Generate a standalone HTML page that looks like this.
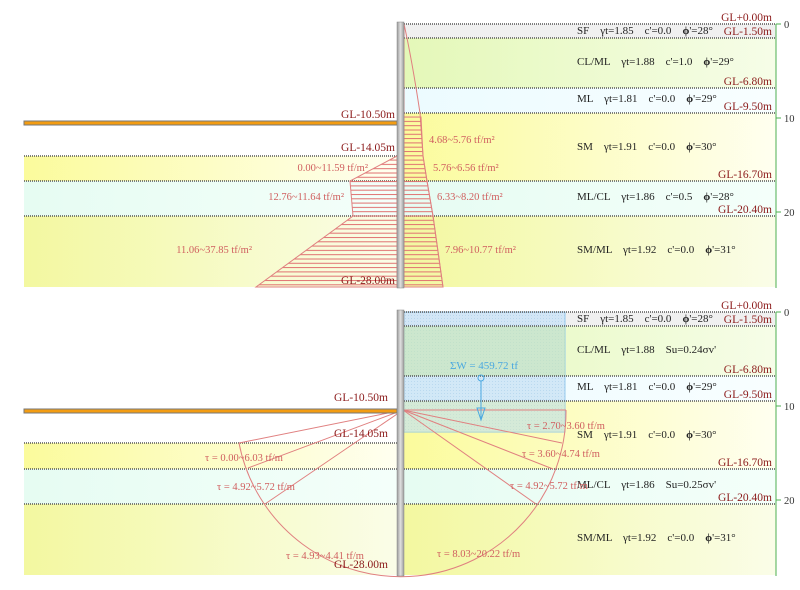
<!DOCTYPE html>
<html><head><meta charset="utf-8"><style>
body{margin:0;background:#fff;}
svg{display:block;font-family:"Liberation Serif",serif;}
</style></head><body>
<svg width="800" height="590" xmlns="http://www.w3.org/2000/svg">
<defs>
<linearGradient id="gy" x1="0" x2="1"><stop offset="0" stop-color="#fbfb9c"/><stop offset="1" stop-color="#fffff0"/></linearGradient>
<linearGradient id="gy2" x1="0" x2="1"><stop offset="0" stop-color="#f3f8a0"/><stop offset="1" stop-color="#fafde8"/></linearGradient>
<linearGradient id="gg" x1="0" x2="1"><stop offset="0" stop-color="#e4f8b8"/><stop offset="1" stop-color="#f6fde8"/></linearGradient>
<linearGradient id="gc" x1="0" x2="1"><stop offset="0" stop-color="#e6fcf2"/><stop offset="1" stop-color="#f4fffa"/></linearGradient>
<linearGradient id="gm" x1="0" x2="1"><stop offset="0" stop-color="#ecfbff"/><stop offset="1" stop-color="#f8feff"/></linearGradient>
<linearGradient id="wall" x1="0" x2="1"><stop offset="0" stop-color="#999"/><stop offset="0.5" stop-color="#e0e0e0"/><stop offset="1" stop-color="#999"/></linearGradient>
<pattern id="hat" width="10" height="4.3" patternUnits="userSpaceOnUse"><line x1="0" y1="1" x2="10" y2="1" stroke="#e07070" stroke-width="1"/></pattern>
<pattern id="blue" width="3" height="3" patternUnits="userSpaceOnUse"><rect width="3" height="3" fill="#cfe6f7"/><rect width="1" height="1" fill="#b5d6ee"/></pattern>
</defs>
<g font-size="10.5">
<!-- ===== TOP PANEL ===== -->
<rect x="404" y="24" width="372" height="14" fill="#f0f0f0"/>
<rect x="404" y="38" width="372" height="50" fill="url(#gg)"/>
<rect x="404" y="88" width="372" height="25" fill="url(#gm)"/>
<rect x="404" y="113" width="372" height="68" fill="url(#gy)"/>
<rect x="404" y="181" width="372" height="35" fill="url(#gc)"/>
<rect x="404" y="216" width="372" height="71" fill="url(#gy2)"/>
<rect x="24" y="156" width="373" height="25" fill="url(#gy)"/>
<rect x="24" y="181" width="373" height="35" fill="url(#gc)"/>
<rect x="24" y="216" width="373" height="71" fill="url(#gy2)"/>
<g stroke="#555" stroke-width="1.5" stroke-dasharray="1,1">
<line x1="404" y1="24" x2="776" y2="24"/><line x1="404" y1="38" x2="776" y2="38"/>
<line x1="404" y1="88" x2="776" y2="88"/><line x1="404" y1="113" x2="776" y2="113"/>
<line x1="404" y1="181" x2="776" y2="181"/><line x1="404" y1="216" x2="776" y2="216"/>
<line x1="24" y1="156" x2="397" y2="156"/><line x1="24" y1="181" x2="397" y2="181"/><line x1="24" y1="216" x2="397" y2="216"/>
</g>
<path d="M404,24 Q412,60 420,113 L423,156 L427,181 L433,216 L443,287 L404,287 Z" fill="none" stroke="#e08080"/>
<path d="M404,117 L421,117 L423,156 L427,181 L433,216 L443,287 L404,287 Z" fill="url(#hat)" stroke="#e08080"/>
<path d="M397,156 L350,181 L353,216 L256,287 L397,287 Z" fill="url(#hat)" stroke="#e08080"/>
<rect x="24" y="121" width="373" height="4" fill="#f39c12" stroke="#777" stroke-width="1"/>
<rect x="397" y="22" width="7" height="266" fill="url(#wall)" stroke="#888" stroke-width="0.5"/>
<g fill="#8b1a1a" font-size="11.5">
<text x="772" y="21" text-anchor="end">GL+0.00m</text><text x="772" y="35" text-anchor="end">GL-1.50m</text>
<text x="772" y="85" text-anchor="end">GL-6.80m</text><text x="772" y="110" text-anchor="end">GL-9.50m</text>
<text x="772" y="178" text-anchor="end">GL-16.70m</text><text x="772" y="213" text-anchor="end">GL-20.40m</text>
<text x="395" y="118" text-anchor="end">GL-10.50m</text><text x="395" y="151" text-anchor="end">GL-14.05m</text>
<text x="395" y="284" text-anchor="end">GL-28.00m</text>
</g>
<g fill="#222" font-size="11">
<text x="577" y="34">SF &#160;&#160; γt=1.85 &#160;&#160; c'=0.0 &#160;&#160; <tspan font-weight="bold">ϕ</tspan>'=28°</text>
<text x="577" y="65">CL/ML &#160;&#160; γt=1.88 &#160;&#160; c'=1.0 &#160;&#160; <tspan font-weight="bold">ϕ</tspan>'=29°</text>
<text x="577" y="102">ML &#160;&#160; γt=1.81 &#160;&#160; c'=0.0 &#160;&#160; <tspan font-weight="bold">ϕ</tspan>'=29°</text>
<text x="577" y="150">SM &#160;&#160; γt=1.91 &#160;&#160; c'=0.0 &#160;&#160; <tspan font-weight="bold">ϕ</tspan>'=30°</text>
<text x="577" y="200">ML/CL &#160;&#160; γt=1.86 &#160;&#160; c'=0.5 &#160;&#160; <tspan font-weight="bold">ϕ</tspan>'=28°</text>
<text x="577" y="253">SM/ML &#160;&#160; γt=1.92 &#160;&#160; c'=0.0 &#160;&#160; <tspan font-weight="bold">ϕ</tspan>'=31°</text>
</g>
<g fill="#d06060">
<text x="429" y="143">4.68~5.76 tf/m²</text><text x="433" y="171">5.76~6.56 tf/m²</text>
<text x="437" y="200">6.33~8.20 tf/m²</text><text x="445" y="253">7.96~10.77 tf/m²</text>
<text x="368" y="171" text-anchor="end">0.00~11.59 tf/m²</text>
<text x="344" y="200" text-anchor="end">12.76~11.64 tf/m²</text>
<text x="252" y="253" text-anchor="end">11.06~37.85 tf/m²</text>
</g>
<line x1="776" y1="24" x2="776" y2="288" stroke="#4caf50"/>
<g stroke="#4caf50"><line x1="776" y1="24" x2="781" y2="24"/><line x1="776" y1="118" x2="781" y2="118"/><line x1="776" y1="212" x2="781" y2="212"/></g>
<g fill="#333"><text x="784" y="28">0</text><text x="784" y="122">10</text><text x="784" y="216">20</text></g>

<!-- ===== BOTTOM PANEL ===== -->
<rect x="404" y="312" width="372" height="14" fill="#f0f0f0"/>
<rect x="404" y="326" width="372" height="50" fill="url(#gg)"/>
<rect x="404" y="376" width="372" height="25" fill="url(#gm)"/>
<rect x="404" y="401" width="372" height="68" fill="url(#gy)"/>
<rect x="404" y="469" width="372" height="35" fill="url(#gc)"/>
<rect x="404" y="504" width="372" height="71" fill="url(#gy2)"/>
<rect x="24" y="443" width="373" height="26" fill="url(#gy)"/>
<rect x="24" y="469" width="373" height="35" fill="url(#gc)"/>
<rect x="24" y="504" width="373" height="71" fill="url(#gy2)"/>
<rect x="404" y="312" width="161" height="120" fill="url(#blue)" opacity="0.9" stroke="#8cc4ec"/>
<rect x="404" y="326" width="161" height="50" fill="#c8e8b0" opacity="0.55"/>
<rect x="404" y="401" width="161" height="31" fill="#d8ecc0" opacity="0.5"/>
<g stroke="#555" stroke-width="1.5" stroke-dasharray="1,1">
<line x1="404" y1="312" x2="776" y2="312"/><line x1="404" y1="326" x2="776" y2="326"/>
<line x1="404" y1="376" x2="776" y2="376"/><line x1="404" y1="401" x2="776" y2="401"/>
<line x1="404" y1="469" x2="776" y2="469"/><line x1="404" y1="504" x2="776" y2="504"/>
<line x1="24" y1="443" x2="397" y2="443"/><line x1="24" y1="469" x2="397" y2="469"/><line x1="24" y1="504" x2="397" y2="504"/>
</g>
<g fill="none" stroke="#e08080" stroke-width="1">
<path d="M239,443 A165,165 0 0 0 566,410"/>
<line x1="403" y1="410" x2="566" y2="410"/>
<line x1="403" y1="410" x2="239" y2="443"/><line x1="403" y1="410" x2="248" y2="468"/>
<line x1="403" y1="410" x2="265" y2="504"/>
<line x1="403" y1="410" x2="562" y2="443"/><line x1="403" y1="410" x2="553" y2="469"/>
<line x1="403" y1="410" x2="536" y2="504"/>
</g>
<g stroke="#4aa8e0" fill="none"><circle cx="481" cy="378" r="3"/><line x1="481" y1="381" x2="481" y2="420"/>
<path d="M477,408 L485,408 L481,420 Z"/></g>
<text x="450" y="369" fill="#4aa8e0" font-size="11">ΣW = 459.72 tf</text>
<rect x="24" y="409" width="373" height="4" fill="#f39c12" stroke="#777" stroke-width="1"/>
<rect x="397" y="310" width="7" height="266" fill="url(#wall)" stroke="#888" stroke-width="0.5"/>
<g fill="#8b1a1a" font-size="11.5">
<text x="772" y="309" text-anchor="end">GL+0.00m</text><text x="772" y="323" text-anchor="end">GL-1.50m</text>
<text x="772" y="373" text-anchor="end">GL-6.80m</text><text x="772" y="398" text-anchor="end">GL-9.50m</text>
<text x="772" y="466" text-anchor="end">GL-16.70m</text><text x="772" y="501" text-anchor="end">GL-20.40m</text>
<text x="388" y="401" text-anchor="end">GL-10.50m</text><text x="388" y="437" text-anchor="end">GL-14.05m</text>
<text x="388" y="568" text-anchor="end">GL-28.00m</text>
</g>
<g fill="#222" font-size="11">
<text x="577" y="322">SF &#160;&#160; γt=1.85 &#160;&#160; c'=0.0 &#160;&#160; <tspan font-weight="bold">ϕ</tspan>'=28°</text>
<text x="577" y="353">CL/ML &#160;&#160; γt=1.88 &#160;&#160; Su=0.24σv'</text>
<text x="577" y="390">ML &#160;&#160; γt=1.81 &#160;&#160; c'=0.0 &#160;&#160; <tspan font-weight="bold">ϕ</tspan>'=29°</text>
<text x="577" y="438">SM &#160;&#160; γt=1.91 &#160;&#160; c'=0.0 &#160;&#160; <tspan font-weight="bold">ϕ</tspan>'=30°</text>
<text x="577" y="488">ML/CL &#160;&#160; γt=1.86 &#160;&#160; Su=0.25σv'</text>
<text x="577" y="541">SM/ML &#160;&#160; γt=1.92 &#160;&#160; c'=0.0 &#160;&#160; <tspan font-weight="bold">ϕ</tspan>'=31°</text>
</g>
<g fill="#d06060">
<text x="527" y="429">τ = 2.70~3.60 tf/m</text>
<text x="522" y="457">τ = 3.60~4.74 tf/m</text>
<text x="510" y="489">τ = 4.92~5.72 tf/m</text>
<text x="437" y="557">τ = 8.03~20.22 tf/m</text>
<text x="205" y="461">τ = 0.00~6.03 tf/m</text>
<text x="217" y="490">τ = 4.92~5.72 tf/m</text>
<text x="286" y="559">τ = 4.93~4.41 tf/m</text>
</g>
<line x1="776" y1="312" x2="776" y2="576" stroke="#4caf50"/>
<g stroke="#4caf50"><line x1="776" y1="312" x2="781" y2="312"/><line x1="776" y1="406" x2="781" y2="406"/><line x1="776" y1="500" x2="781" y2="500"/></g>
<g fill="#333"><text x="784" y="316">0</text><text x="784" y="410">10</text><text x="784" y="504">20</text></g>
</g>
</svg>
</body></html>
